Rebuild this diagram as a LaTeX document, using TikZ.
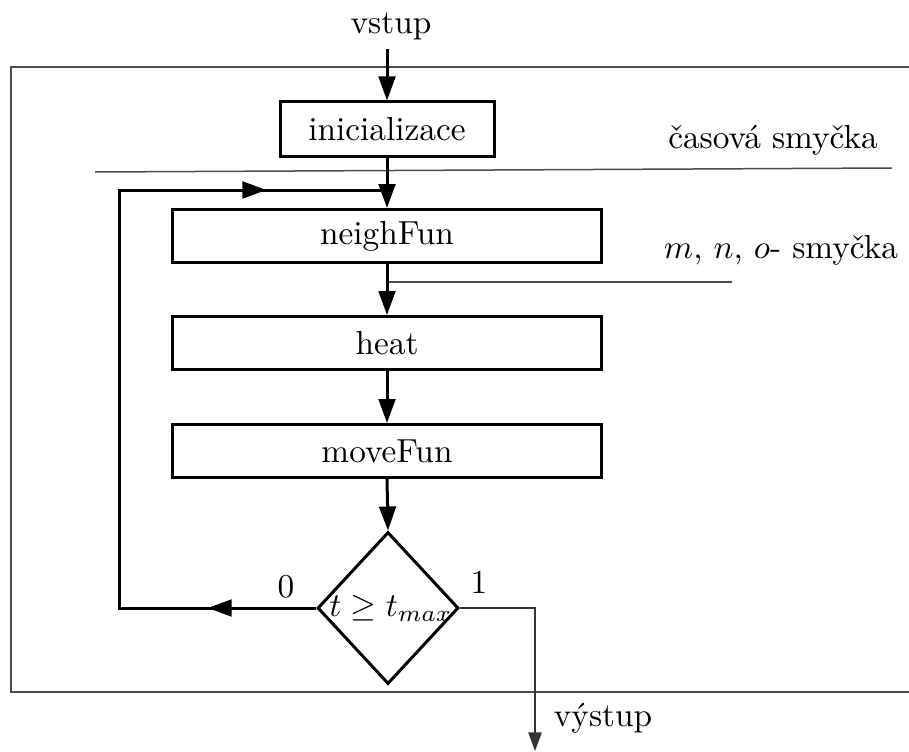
\documentclass[tikz,border=0pt]{standalone}
\usepackage{fontspec}
\usetikzlibrary{arrows.meta,shapes.geometric,decorations.markings}

\begin{document}
\begin{tikzpicture}[x=0.3pt,y=-0.3pt,
  thickline/.style={line width=0.9pt,black},
  thinline/.style={line width=0.45pt,black!70},
  flow/.style={thickline,-{Triangle[length=7.2pt,width=5pt]}},
  outflow/.style={line width=0.45pt,black!80,-{Triangle[length=5.6pt,width=4pt]}},
  midarrow/.style={thickline,postaction={decorate},
    decoration={markings,mark=at position 0.55 with {\arrow{Triangle[length=7.2pt,width=5pt]}}}},
  stepbox/.style={draw,thickline,rectangle,inner sep=0pt,
    minimum width={429*0.3pt},minimum height={53*0.3pt}},
  decision/.style={draw,thickline,diamond,inner sep=0pt,
    minimum width={141*0.3pt},minimum height={152*0.3pt}}
]
\useasboundingbox (0,0) rectangle (909,751);

% frame round the program (open to the right)
\draw[thinline] (909,67) -- (11,67) -- (11,692) -- (909,692);

% input
\node (vin) at (391,26) {vstup};
\coordinate (inTop) at (387,49);

% blocks
\node[draw,thickline,rectangle,inner sep=0pt,
  minimum width={214*0.3pt},minimum height={54*0.3pt}] (init) at (387,129) {inicializace};
\node[stepbox] (nf)   at (387,236) {neighFun};
\node[stepbox] (heat) at (387,343) {heat};
\node[stepbox] (mv)   at (387,451) {moveFun};
\node[decision] (dec) at (388,608) {};
\node (cond) at (391,608) {$t \geq t_{max}$};

% loop boundaries
\coordinate (tlA) at (95,172);
\coordinate (tlB) at (892,168);
\draw[thinline] (tlA) -- (tlB);
\node (tlab) at (773,140) {časová smyčka};

\coordinate (mlA) at (387,282);
\coordinate (mlB) at (732,282);
\draw[thinline] (mlA) -- (mlB);
\node (mlab) at (781,250) {$m$, $n$, $o$- smyčka};

% main flow
\draw[flow] (inTop) -- (init.north);
\draw[flow] (init.south) -- (nf.north);
\draw[flow] (nf.south) -- (heat.north);
\draw[flow] (heat.south) -- (mv.north);
\draw[flow] (mv.south) -- (dec.north);

% back loop (branch 0)
\coordinate (lpB) at (119,608);
\coordinate (lpT) at (119,190);
\coordinate (lpJ) at (387,190);
\draw[thickline,line join=miter] (dec.west) -- (lpB) -- (lpT) -- (lpJ);
\draw[midarrow] (dec.west) -- (lpB);
\draw[midarrow] (lpT) -- (lpJ);
\node (zero) at (286,587) {0};

% exit (branch 1)
\coordinate (exA) at (535,608);
\coordinate (exB) at (535,751);
\draw[outflow] (dec.east) -- (exA) -- (exB);
\node (one) at (479,582) {1};
\node (vout) at (603,718) {výstup};
\end{tikzpicture}
\end{document}
